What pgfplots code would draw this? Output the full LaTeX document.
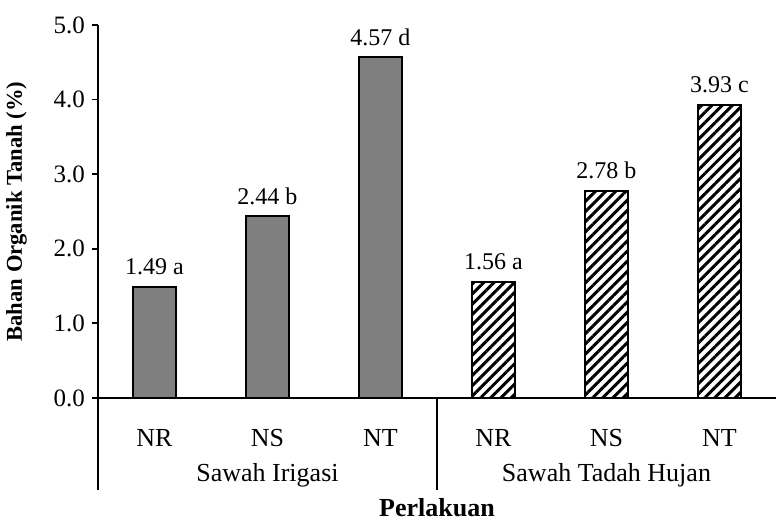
\documentclass[border=0pt]{standalone}
\usepackage{fontspec}
\setmainfont{Liberation Serif}
\usepackage{pgfplots}
\pgfplotsset{compat=1.18}
\usetikzlibrary{patterns.meta}
\definecolor{bargray}{HTML}{7F7F7F}
\begin{document}
\begin{tikzpicture}
\path[use as bounding box] (-49pt,-62pt) rectangle (339pt,199pt);
\begin{axis}[
  at={(0pt,0pt)}, anchor=south west,
  scale only axis, width=339pt, height=186.5pt,
  xmin=-0.5, xmax=5.5, ymin=0, ymax=5,
  axis x line=bottom, axis y line=left,
  axis line style={line width=0.9pt, -},
  xtick={0,1,2,3,4,5}, xticklabels={NR,NS,NT,NR,NS,NT},
  x tick style={draw=none},
  xticklabel style={font=\fontsize{13}{15}\selectfont, yshift=-9pt},
  ytick={0,1,2,3,4,5},
  tick align=outside, major tick length=3pt,
  y tick style={line width=0.9pt, black},
  y tick label style={font=\fontsize{12.5}{14}\selectfont, /pgf/number format/.cd, fixed, fixed zerofill, precision=1},
  /pgf/number format/assume math mode=true,
  ylabel={Bahan Organik Tanah (\%)},
  ylabel style={font=\bfseries\fontsize{11.3}{13}\selectfont, at={(axis description cs:-0.12,0.5)}, anchor=center},
  ybar, bar width=21.5pt, bar shift=0pt,
  point meta=explicit symbolic,
  nodes near coords={\pgfplotspointmeta},
  every node near coord/.append style={font=\fontsize{12}{14}\selectfont, black, yshift=2pt},
  clip=false,
]
\addplot[draw=black, line width=0.9pt, fill=bargray] coordinates {
  (0,1.49) [1.49 a]
  (1,2.44) [2.44 b]
  (2,4.57) [4.57 d]
};
\addplot[draw=black, line width=0.9pt, pattern={Lines[angle=45,distance=3.6pt,line width=1.5pt]}] coordinates {
  (3,1.56) [1.56 a]
  (4,2.78) [2.78 b]
  (5,3.93) [3.93 c]
};
\draw[line width=0.9pt] (axis cs:-0.5,0) -- ++(0pt,-46pt);
\draw[line width=0.9pt] (axis cs:2.5,0) -- ++(0pt,-46pt);
\node[font=\fontsize{13}{15}\selectfont] at ([yshift=-38.5pt]axis cs:1,0) {Sawah Irigasi};
\node[font=\fontsize{13}{15}\selectfont] at ([yshift=-38.5pt]axis cs:4,0) {Sawah Tadah Hujan};
\node[font=\bfseries\fontsize{13}{15}\selectfont] at ([yshift=-55pt]axis cs:2.5,0) {Perlakuan};
\end{axis}
\end{tikzpicture}
\end{document}
